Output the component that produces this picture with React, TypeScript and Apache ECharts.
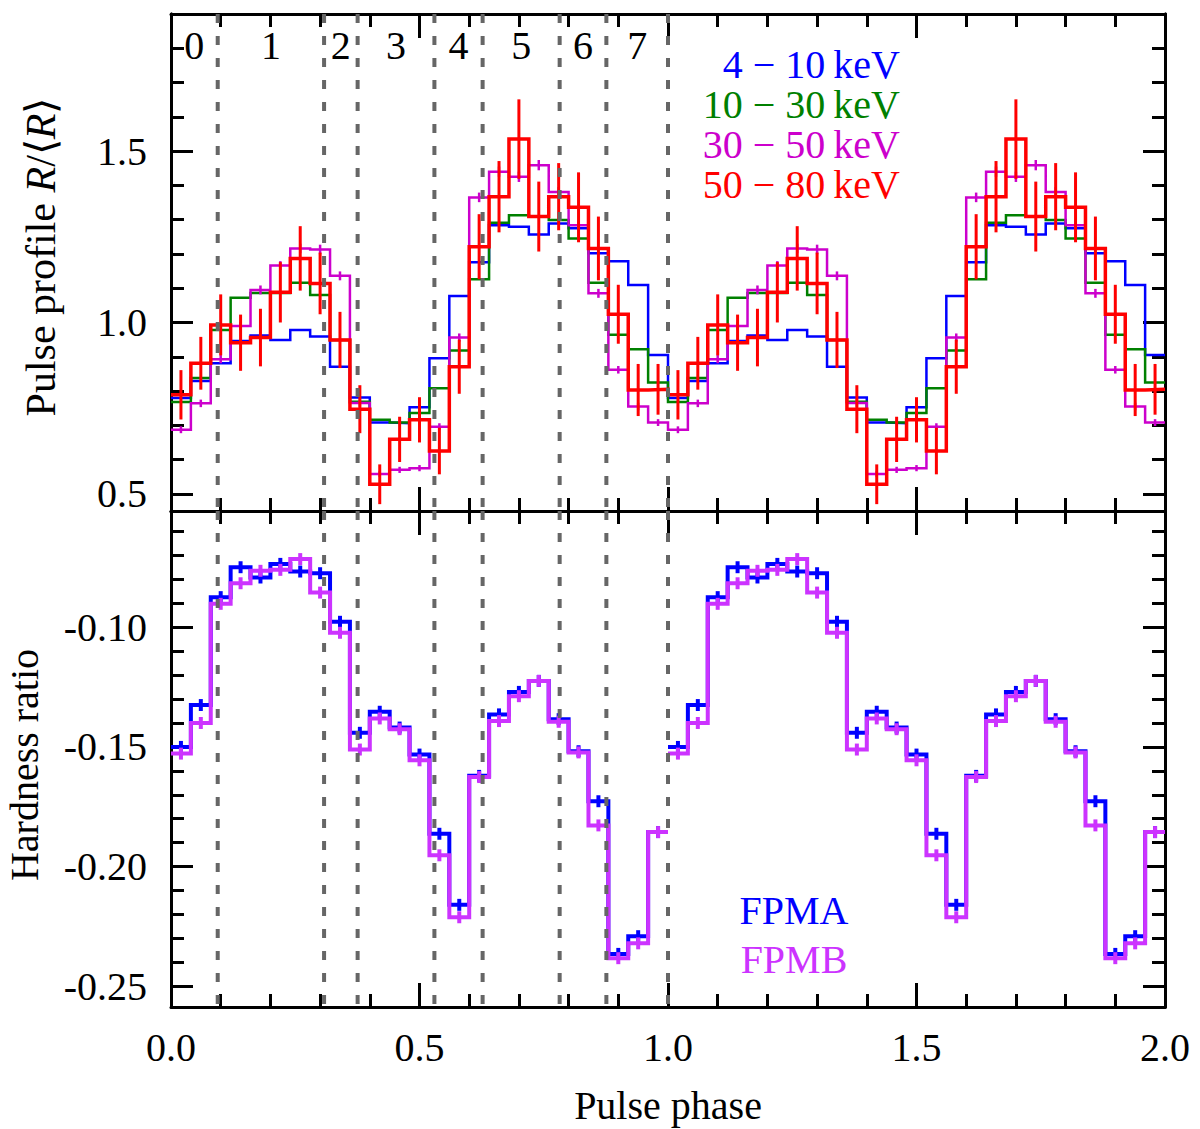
import React, { useEffect, useRef } from "react";
import * as echarts from "echarts";

// region boundaries (phase) and their labels
const regionEdges = [0, 0.094, 0.308, 0.3755, 0.53, 0.627, 0.782, 0.876, 1.0];
const regionNames = ["0", "1", "2", "3", "4", "5", "6", "7"];
const regionLabelLevel = 1.809;

// pulse profiles, 25 phase bins per cycle
const prof4to10 = [0.78, 0.829, 0.881, 0.946, 0.962, 0.949, 0.978, 0.959, 0.871, 0.781, 0.708, 0.706, 0.753, 0.896, 1.077, 1.176, 1.284, 1.279, 1.257, 1.289, 1.275, 1.202, 1.179, 1.109, 0.905];
const prof10to30 = [0.768, 0.838, 0.978, 1.072, 1.086, 1.086, 1.116, 1.08, 0.949, 0.769, 0.716, 0.708, 0.736, 0.808, 0.918, 1.126, 1.291, 1.313, 1.309, 1.299, 1.245, 1.116, 0.964, 0.922, 0.825];
const prof30to50 = [0.687, 0.764, 0.893, 0.99, 1.095, 1.166, 1.216, 1.213, 1.136, 0.765, 0.558, 0.57, 0.575, 0.696, 0.956, 1.365, 1.44, 1.425, 1.459, 1.381, 1.284, 1.085, 0.862, 0.755, 0.708];
const err30to50 = [0.01, 0.011, 0.012, 0.012, 0.013, 0.013, 0.014, 0.014, 0.013, 0.011, 0.009, 0.009, 0.009, 0.01, 0.012, 0.014, 0.015, 0.015, 0.015, 0.014, 0.014, 0.013, 0.011, 0.011, 0.01];
const prof50to80 = [0.789, 0.881, 0.993, 0.941, 0.956, 1.088, 1.187, 1.114, 0.949, 0.747, 0.528, 0.659, 0.716, 0.625, 0.871, 1.221, 1.367, 1.535, 1.309, 1.367, 1.336, 1.216, 1.024, 0.803, 0.805];
const err50to80 = [0.072, 0.077, 0.089, 0.082, 0.084, 0.088, 0.094, 0.09, 0.082, 0.07, 0.058, 0.066, 0.066, 0.068, 0.079, 0.095, 0.104, 0.116, 0.102, 0.098, 0.102, 0.093, 0.086, 0.076, 0.074];

// hardness ratio
const hrFPMA = [-0.15, -0.1325, -0.0874, -0.0749, -0.0792, -0.0735, -0.0767, -0.0774, -0.0977, -0.1441, -0.1353, -0.1419, -0.1532, -0.1863, -0.216, -0.1621, -0.1364, -0.127, -0.1224, -0.1384, -0.1518, -0.1727, -0.2365, -0.2291, -0.1856];
const hrFPMB = [-0.1528, -0.14, -0.0902, -0.0816, -0.0764, -0.076, -0.0715, -0.0855, -0.1023, -0.1511, -0.1381, -0.1426, -0.1556, -0.1953, -0.2212, -0.1626, -0.1392, -0.1288, -0.1224, -0.1395, -0.1523, -0.1828, -0.2383, -0.2321, -0.1856];
const errFPMA = [0.0025, 0.0025, 0.0025, 0.0025, 0.0025, 0.0025, 0.0025, 0.0025, 0.0025, 0.0025, 0.0025, 0.0025, 0.0025, 0.0025, 0.0025, 0.0025, 0.0025, 0.0025, 0.0025, 0.0025, 0.0025, 0.0025, 0.0025, 0.0025, 0.0025];
const errFPMB = [0.0025, 0.0025, 0.0025, 0.0025, 0.0025, 0.0025, 0.0025, 0.0025, 0.0025, 0.0025, 0.0025, 0.0025, 0.0025, 0.0025, 0.0025, 0.0025, 0.0025, 0.0025, 0.0025, 0.0025, 0.0025, 0.0025, 0.0025, 0.0025, 0.0025];

// ticks
const profMajorTicks = [0.5, 1.0, 1.5];
const profMinorTicks = [0.5, 0.6, 0.7, 0.8, 0.9, 1.0, 1.1, 1.2, 1.3, 1.4, 1.5, 1.6, 1.7, 1.8, 1.9];
const hrMajorTicks = [-0.25, -0.2, -0.15, -0.1];
const hrMinorTicks = [-0.25, -0.24, -0.23, -0.22, -0.21, -0.2, -0.19, -0.18, -0.17, -0.16, -0.15, -0.14, -0.13, -0.12, -0.11, -0.1, -0.09, -0.08, -0.07, -0.06];

const FONT = "Liberation Serif";
const BLUE = "#0000ff";
const GREEN = "#008000";
const MAGENTA = "#cc00cc";
const RED = "#ff0000";
const PURPLE = "#cc33ff";

const PROF_MIN = 0.45;
const PROF_MAX = 1.9;
const HR_MIN = -0.2587;
const HR_MAX = -0.0514;

const w = 1 / prof4to10.length;

const steps = (vals: number[], cycles: number[]) => {
  const out: number[][] = [];
  cycles.forEach((c) =>
    vals.forEach((v, i) => {
      out.push([c + i * w, v], [c + (i + 1) * w, v]);
    })
  );
  return out;
};

const bars = (vals: number[], errs: number[], cycles: number[]) => {
  const out: number[][] = [];
  cycles.forEach((c) =>
    vals.forEach((v, i) => {
      out.push([c + (i + 0.5) * w, v - errs[i], v + errs[i]]);
    })
  );
  return out;
};

const stepSeries = (data: number[][], color: string, width: number, xi: number, yi: number, z: number) => ({
  type: "line",
  xAxisIndex: xi,
  yAxisIndex: yi,
  data,
  z,
  showSymbol: false,
  symbol: "none",
  silent: true,
  lineStyle: { color, width, join: "miter" },
});

const errorSeries = (data: number[][], color: string, width: number, xi: number, yi: number, z: number) => ({
  type: "custom",
  xAxisIndex: xi,
  yAxisIndex: yi,
  data,
  z,
  silent: true,
  encode: { x: 0, y: [1, 2] },
  renderItem: (_p: any, api: any) => {
    const a = api.coord([api.value(0), api.value(1)]);
    const b = api.coord([api.value(0), api.value(2)]);
    return {
      type: "line",
      shape: { x1: a[0], y1: a[1], x2: b[0], y2: b[1] },
      style: { stroke: color, lineWidth: width },
    };
  },
});

const dashSeries = (xi: number, yi: number, yRef: number) => ({
  type: "custom",
  xAxisIndex: xi,
  yAxisIndex: yi,
  data: regionEdges.slice(1).map((x) => [x, yRef]),
  z: 20,
  silent: true,
  encode: { x: 0, y: 1 },
  renderItem: (params: any, api: any) => {
    const p = api.coord([api.value(0), api.value(1)]);
    const cs = params.coordSys;
    return {
      type: "line",
      shape: { x1: p[0], y1: cs.y, x2: p[0], y2: cs.y + cs.height },
      style: { stroke: "#666666", lineWidth: 4, lineDash: [9, 13] },
    };
  },
});

const xAxisBase = (grid: number, position: string, labels: boolean) => ({
  type: "value",
  gridIndex: grid,
  position,
  min: 0,
  max: 2,
  interval: 0.5,
  axisLine: { show: true, onZero: false, lineStyle: { color: "#000", width: 3 } },
  axisTick: { show: true, inside: true, length: 24, lineStyle: { color: "#000", width: 3 } },
  minorTick: { show: true, splitNumber: 5, length: 13, lineStyle: { color: "#000", width: 3 } },
  splitLine: { show: false },
  axisLabel: {
    show: labels,
    inside: false,
    margin: 20,
    fontSize: 40,
    fontFamily: FONT,
    color: "#000",
    formatter: (v: number) => v.toFixed(1),
  },
});

const yAxisBase = (
  grid: number,
  position: string,
  min: number,
  max: number,
  ticks: number[],
  len: number,
  labels: boolean,
  digits: number
) => ({
  type: "value",
  gridIndex: grid,
  position,
  min,
  max,
  axisLine: { show: true, onZero: false, lineStyle: { color: "#000", width: 3 } },
  axisTick: { show: true, inside: true, length: len, customValues: ticks, lineStyle: { color: "#000", width: 3 } },
  splitLine: { show: false },
  axisLabel: {
    show: labels,
    customValues: ticks,
    margin: 24,
    fontSize: 40,
    fontFamily: FONT,
    color: "#000",
    formatter: (v: number) => v.toFixed(digits),
  },
});

const label = (id: string, text: string, x: number, y: number, fill: string, align: string, extra: any = {}) => ({
  type: "text",
  id,
  x,
  y,
  z: 100,
  ...extra,
  style: {
    text,
    fill,
    font: `40px "${FONT}"`,
    textAlign: align,
    textVerticalAlign: "middle",
    lineHeight: 34,
    ...(extra.style || {}),
  },
});

const App: React.FC = () => {
  const chartRef = useRef<HTMLDivElement>(null);

  useEffect(() => {
    const chart = echarts.init(chartRef.current!, undefined, { renderer: "svg" });

    const options = {
      animation: false,
      backgroundColor: "#fff",
      grid: [
        { left: 171, top: 14, width: 994, height: 497 },
        { left: 171, top: 511, width: 994, height: 496 },
      ],
      xAxis: [
        xAxisBase(0, "bottom", false),
        xAxisBase(0, "top", false),
        xAxisBase(1, "bottom", true),
        xAxisBase(1, "top", false),
      ],
      yAxis: [
        yAxisBase(0, "left", PROF_MIN, PROF_MAX, profMajorTicks, 22, true, 1),
        yAxisBase(0, "left", PROF_MIN, PROF_MAX, profMinorTicks, 13, false, 1),
        yAxisBase(0, "right", PROF_MIN, PROF_MAX, profMajorTicks, 22, false, 1),
        yAxisBase(0, "right", PROF_MIN, PROF_MAX, profMinorTicks, 13, false, 1),
        yAxisBase(1, "left", HR_MIN, HR_MAX, hrMajorTicks, 22, true, 2),
        yAxisBase(1, "left", HR_MIN, HR_MAX, hrMinorTicks, 13, false, 2),
        yAxisBase(1, "right", HR_MIN, HR_MAX, hrMajorTicks, 22, false, 2),
        yAxisBase(1, "right", HR_MIN, HR_MAX, hrMinorTicks, 13, false, 2),
      ],
      series: [
        stepSeries(steps(prof4to10, [0, 1]), BLUE, 2.5, 0, 0, 2),
        stepSeries(steps(prof10to30, [0, 1]), GREEN, 2.5, 0, 0, 3),
        stepSeries(steps(prof30to50, [0, 1]), MAGENTA, 2.5, 0, 0, 4),
        errorSeries(bars(prof30to50, err30to50, [0, 1]), MAGENTA, 2.5, 0, 0, 4),
        stepSeries(steps(prof50to80, [0, 1]), RED, 3.5, 0, 0, 5),
        errorSeries(bars(prof50to80, err50to80, [0, 1]), RED, 3, 0, 0, 5),
        dashSeries(0, 0, 1.0),
        stepSeries(steps(hrFPMA, [0]), BLUE, 4, 2, 4, 2),
        stepSeries(steps(hrFPMA, [1]), BLUE, 4, 2, 4, 2),
        errorSeries(bars(hrFPMA, errFPMA, [0, 1]), BLUE, 4, 2, 4, 2),
        stepSeries(steps(hrFPMB, [0]), PURPLE, 4, 2, 4, 3),
        stepSeries(steps(hrFPMB, [1]), PURPLE, 4, 2, 4, 3),
        errorSeries(bars(hrFPMB, errFPMB, [0, 1]), PURPLE, 4, 2, 4, 3),
        dashSeries(2, 4, -0.15),
      ],
      graphic: [
        label("l1", "4 \u2212 10\u2009keV", 900, 64, BLUE, "right"),
        label("l2", "10 \u2212 30\u2009keV", 900, 104, GREEN, "right"),
        label("l3", "30 \u2212 50\u2009keV", 900, 144, MAGENTA, "right"),
        label("l4", "50 \u2212 80\u2009keV", 900, 184, RED, "right"),
        label("fa", "FPMA", 794, 910, BLUE, "center"),
        label("fb", "FPMB", 794, 959, PURPLE, "center"),
        label("xt", "Pulse phase", 668, 1105, "#000", "center"),
        label("yt2", "Hardness ratio", 24, 765, "#000", "center", { rotation: Math.PI / 2 }),
        label("yt1", "Pulse profile {i|R}/\u27e8{i|R}\u27e9", 41, 257, "#000", "center", {
          rotation: Math.PI / 2,
          style: {
            font: `42px "${FONT}"`,
            rich: { i: { fontStyle: "italic", fontSize: 42, fontFamily: FONT, fill: "#000" } },
          },
        }),
      ],
    };
    chart.setOption(options as any);

    // region numbers, placed through the top panel's axes
    const regionLabels = regionNames.map((n, i) => {
      const p = chart.convertToPixel({ xAxisIndex: 0, yAxisIndex: 0 }, [
        (regionEdges[i] + regionEdges[i + 1]) / 2,
        regionLabelLevel,
      ]) as number[];
      return label("r" + i, n, p[0], p[1], "#000", "center");
    });
    chart.setOption({ graphic: regionLabels } as any);

    return () => {
      chart.dispose();
    };
  }, []);

  return (
    <div
      ref={chartRef}
      style={{ position: "absolute", left: 0, top: 0, width: "1200px", height: "1129px" }}
    ></div>
  );
};

export default App;
